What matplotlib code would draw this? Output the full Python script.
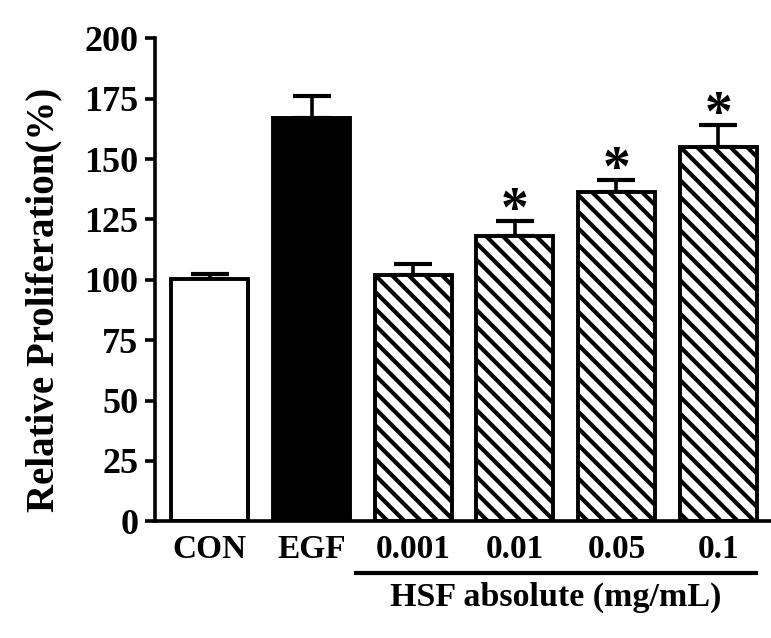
import matplotlib
matplotlib.use('Agg')
import matplotlib.pyplot as plt
import matplotlib.transforms as mtransforms
import numpy as np

groups = ['CON', 'EGF', '0.001', '0.01', '0.05', '0.1']
means = [100.2, 167.0, 102.0, 118.3, 136.3, 155.0]
errors = [2.0, 9.0, 4.5, 6.0, 5.0, 9.0]
significant = [False, False, False, True, True, True]
fills = ['white', 'black', 'white', 'white', 'white', 'white']
hatches = ['', '', '\\\\', '\\\\', '\\\\', '\\\\']
group_label = 'HSF absolute (mg/mL)'

plt.rcParams['font.family'] = ['Liberation Serif', 'DejaVu Serif']
plt.rcParams['font.weight'] = 'bold'
plt.rcParams['hatch.linewidth'] = 3.0
plt.rcParams['hatch.color'] = 'black'

fig = plt.figure(figsize=(7.71, 6.38), dpi=100)
ax = fig.add_axes([0.201, 0.183, 0.799, 0.757])

x = np.arange(len(groups))
width = 0.76

ax.bar(x, means, width, color=fills, edgecolor='black', linewidth=2.8,
       hatch=hatches, zorder=2)
ax.errorbar(x, means, yerr=[np.zeros(len(errors)), errors], fmt='none',
            ecolor='black', elinewidth=2.6, capsize=14, capthick=3, zorder=1)

# significance stars just above the error caps
for xi, m, e, s in zip(x, means, errors, significant):
    if s:
        ax.text(xi, m + e - 2, '*', ha='center', va='baseline',
                fontsize=40, fontweight='bold')

ax.set_xlim(-0.54, 5.52)
ax.set_ylim(0, 200)
ax.set_yticks(np.arange(0, 201, 25))
ax.set_xticks(x)
ax.set_xticklabels(groups, fontsize=24, fontweight='bold')
ax.tick_params(axis='y', labelsize=26, width=2.6, length=7, pad=5)
ax.tick_params(axis='x', length=0, pad=9)
for lab in ax.get_yticklabels():
    lab.set_fontweight('bold')

ax.spines['top'].set_visible(False)
ax.spines['right'].set_visible(False)
ax.spines['left'].set_linewidth(2.6)
ax.spines['bottom'].set_linewidth(2.6)

ax.set_ylabel('Relative Proliferation(%)', fontsize=28, fontweight='bold')
ax.yaxis.set_label_coords(-0.151, 0.458)

trans = mtransforms.blended_transform_factory(ax.transData, ax.transAxes)
ax.plot([1.44, 5.37], [-0.108, -0.108], color='black', lw=3,
        transform=trans, clip_on=False)
ax.text(3.40, -0.157, group_label, transform=trans, ha='center', va='center',
        fontsize=24.5, fontweight='bold')

fig.savefig('out.png', dpi=100)
